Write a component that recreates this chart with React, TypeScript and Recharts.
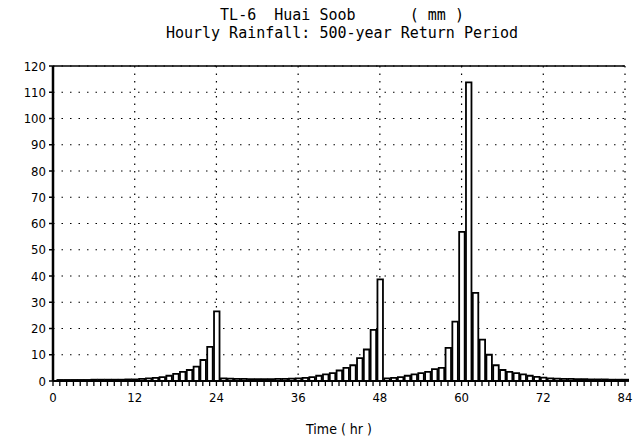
import React from 'react';
import { BarChart, Bar, XAxis, YAxis, CartesianGrid, ReferenceLine } from 'recharts';

const hours = [
  1, 2, 3, 4, 5, 6, 7, 8, 9, 10, 11, 12, 13, 14, 15, 16, 17, 18, 19, 20, 21,
  22, 23, 24, 25, 26, 27, 28, 29, 30, 31, 32, 33, 34, 35, 36, 37, 38, 39, 40, 41, 42,
  43, 44, 45, 46, 47, 48, 49, 50, 51, 52, 53, 54, 55, 56, 57, 58, 59, 60, 61, 62, 63,
  64, 65, 66, 67, 68, 69, 70, 71, 72, 73, 74, 75, 76, 77, 78, 79, 80, 81, 82, 83, 84,
];

// hourly rainfall (mm)
const rainfall = [
  0.4, 0.4, 0.4, 0.4, 0.4, 0.5, 0.5, 0.5, 0.5, 0.5,
  0.6, 0.6, 0.8, 1.0, 1.2, 1.5, 2.0, 2.7, 3.5, 4.2,
  5.5, 8.0, 13.0, 26.5,
  1.0, 0.9, 0.8, 0.8, 0.7, 0.7, 0.7, 0.7, 0.8, 0.8, 0.9,
  1.0, 1.2, 1.5, 2.0, 2.5, 3.0, 4.0, 5.0, 6.0, 8.7, 12.0, 19.5, 38.7,
  1.0, 1.2, 1.5, 2.0, 2.5, 3.0, 3.5, 4.5, 5.0,
  12.6, 22.6, 56.8, 113.8,
  33.6, 15.8, 10.0, 6.0, 4.2, 3.5, 3.0, 2.5, 2.0, 1.6, 1.3, 1.0,
  0.9, 0.8, 0.8, 0.7, 0.7, 0.6, 0.6, 0.6, 0.5, 0.5, 0.5,
];

const xTicks = [0, 12, 24, 36, 48, 60, 72, 84];
const yTicks = [0, 10, 20, 30, 40, 50, 60, 70, 80, 90, 100, 110, 120];

const data = hours.map((h, i) => ({ hour: h, rain: rainfall[i] }));

const tickFont = { fontFamily: 'DejaVu Sans Condensed', fontSize: 13, fill: '#000' };

// every hour gets a tick mark, only the 12-hour ones get a number
const HourTick = (props: any) => {
  const { x, y, payload } = props;
  if (!xTicks.includes(payload.value)) return null;
  return (
    <text x={x} y={y} dy="0.71em" textAnchor="middle" {...tickFont}>
      {payload.value}
    </text>
  );
};

const App = () => {
  return (
    <div style={{ position: 'absolute', left: 0, top: 0, width: 638, height: 448, background: '#fff' }}>
      <div style={{ position: 'absolute', left: 0, top: 6, width: 684, textAlign: 'center', fontFamily: 'DejaVu Sans Mono', fontSize: 15, lineHeight: '18px', color: '#000', whiteSpace: 'pre' }}>
        {'TL-6  Huai Soob      ( mm )'}
        <br />
        {'Hourly Rainfall: 500-year Return Period'}
      </div>
      <BarChart
        width={638}
        height={448}
        data={data}
        margin={{ top: 66, right: 13, left: 0, bottom: 0 }}
        barSize={5.5}
      >
        <CartesianGrid stroke="#000" strokeDasharray="1.5 7" strokeWidth={1.2} vertical={false} />
        <CartesianGrid
          xAxisId="grid"
          stroke="#000"
          strokeDasharray="1.5 6"
          strokeWidth={1.2}
          horizontal={false}
        />
        <XAxis xAxisId="grid" dataKey="hour" type="number" domain={[0, 84]} ticks={xTicks} hide />
        <XAxis
          dataKey="hour"
          type="number"
          domain={[0, 84]}
          ticks={[0, ...hours]}
          interval={0}
          height={67}
          tickSize={5}
          tickMargin={7}
          tick={<HourTick />}
          axisLine={{ stroke: '#000', strokeWidth: 2 }}
          tickLine={{ stroke: '#000', strokeWidth: 1.3 }}
          label={{ value: 'Time ( hr )', position: 'insideBottom', offset: 14, style: { ...tickFont, fontSize: 14 } }}
        />
        <YAxis
          type="number"
          domain={[0, 120]}
          ticks={yTicks}
          width={53}
          tickSize={4}
          tickMargin={3}
          tick={tickFont}
          axisLine={{ stroke: '#000', strokeWidth: 2.5 }}
          tickLine={{ stroke: '#000', strokeWidth: 1.5 }}
        />
        <ReferenceLine y={120} stroke="#000" strokeWidth={1.5} />
        <Bar dataKey="rain" fill="#fff" stroke="#000" strokeWidth={1.8} isAnimationActive={false} />
      </BarChart>
    </div>
  );
};

export default App;
